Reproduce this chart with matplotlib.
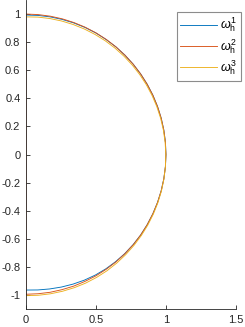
import numpy as np
import matplotlib
matplotlib.use('Agg')
import matplotlib.pyplot as plt

plt.rcParams['font.family'] = ['Liberation Sans', 'DejaVu Sans']
plt.rcParams['mathtext.fontset'] = 'custom'
plt.rcParams['mathtext.rm'] = 'Liberation Sans'
plt.rcParams['mathtext.it'] = 'Liberation Sans:italic'

# polar angle (deg) of the boundary samples, bottom -> top, every 5 deg
theta_deg = list(range(-90, 91, 5))
# radius for each approximation
r_h1 = [0.965, 0.968, 0.972, 0.977, 0.982, 0.987, 0.991, 0.994, 0.996, 0.998,
        0.999, 1.0, 1.0, 1.0, 1.0, 1.0, 1.0, 1.0, 1.0,
        1.0, 1.0, 1.0, 1.0, 1.0, 1.0, 1.0, 1.0, 1.0, 1.0,
        0.999, 0.999, 0.998, 0.997, 0.996, 0.995, 0.994, 0.993]
r_h2 = [0.995, 0.995, 0.996, 0.996, 0.997, 0.997, 0.998, 0.998, 0.999, 0.999,
        1.0, 1.0, 1.0, 1.0, 1.0, 1.0, 1.0, 1.0, 1.0,
        1.0, 1.0, 1.0, 1.0, 1.0, 1.0, 1.0, 1.0, 1.0, 1.0,
        1.0, 1.0, 1.0, 1.0, 1.0, 1.0, 1.0, 1.0]
r_h3 = [1.005, 1.006, 1.007, 1.008, 1.009, 1.01, 1.01, 1.01, 1.009, 1.008,
        1.007, 1.006, 1.005, 1.004, 1.003, 1.002, 1.001, 1.0, 0.999,
        0.998, 0.997, 0.996, 0.995, 0.994, 0.993, 0.992, 0.991, 0.99, 0.989,
        0.988, 0.987, 0.986, 0.985, 0.984, 0.983, 0.982, 0.98]
labels = ['$\\omega_\\mathrm{h}^1$', '$\\omega_\\mathrm{h}^2$', '$\\omega_\\mathrm{h}^3$']
colors = ['#0072BD', '#D95319', '#EDB120']

fig = plt.figure(figsize=(2.45, 3.27), dpi=100)
ax = fig.add_axes([0.106, 0.055, 0.857, 0.945])

th = np.deg2rad(theta_deg)
for i, (r, lab, c) in enumerate(zip([r_h1, r_h2, r_h3], labels, colors)):
    r = np.asarray(r)
    x = r * np.cos(th)
    y = r * np.sin(th)
    if i == 1:
        # orange one is closed along the symmetry axis
        x = np.append(x, x[0])
        y = np.append(y, y[0])
    ax.plot(x, y, color=c, lw=0.65, label=lab)

ax.set_xlim(0, 1.5)
ax.set_ylim(-1.1, 1.1)
ax.set_xticks([0, 0.5, 1, 1.5])
ax.set_xticklabels(['0', '0.5', '1', '1.5'])
ax.set_yticks(np.round(np.arange(-1, 1.01, 0.2), 1))
ax.set_yticklabels(['-1', '-0.8', '-0.6', '-0.4', '-0.2', '0', '0.2', '0.4', '0.6', '0.8', '1'])
for s in ['top', 'right']:
    ax.spines[s].set_visible(False)
for s in ['left', 'bottom']:
    ax.spines[s].set_color('#262626')
    ax.spines[s].set_linewidth(0.6)
ax.tick_params(direction='in', length=3, width=0.6, colors='#262626', labelsize=8, pad=4)

leg = ax.legend(loc='upper right', fontsize=9, handlelength=2.9, handletextpad=0.3,
                labelspacing=0.2, fancybox=False, framealpha=1, edgecolor='#8c8c8c',
                borderpad=0.3, borderaxespad=0,
                bbox_to_anchor=(241 / 245, 1 - 12 / 327), bbox_transform=fig.transFigure)
leg.get_frame().set_linewidth(0.8)

fig.savefig('out.png', dpi=100)
